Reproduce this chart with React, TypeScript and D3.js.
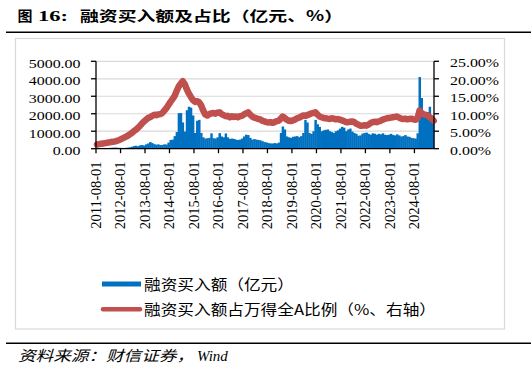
import * as d3 from "d3";

// 融资买入额占万得全A比例（%），月度，2011-08 ~ 2025-05
const ratioPct = [
  1.2, 1.3, 1.4, 1.5, 1.6,
  1.7, 1.8, 1.9, 2.0, 2.1, 2.3, 2.5, 2.8, 3.1, 3.4, 3.7, 4.1,
  4.5, 5.0, 5.4, 5.9, 6.5, 7.2, 7.8, 8.3, 8.8, 9.0, 9.4, 9.7,
  9.6, 9.8, 9.9, 10.2, 10.9, 11.6, 12.5, 13.4, 14.2, 15.1, 16.5, 17.8,
  18.6, 19.3, 18.5, 17.0, 15.8, 14.8, 13.9, 13.4, 13.6, 13.3, 12.4, 11.0,
  9.8, 9.5, 9.9, 10.1, 10.2, 10.0, 10.3, 10.4, 9.9, 9.6, 9.3, 9.4,
  9.0, 9.3, 9.1, 9.2, 9.0, 9.3, 9.4, 9.8, 10.1, 10.4, 9.8, 9.2,
  8.9, 8.7, 8.5, 8.4, 8.0, 7.8, 7.6, 7.5, 7.6, 7.4, 7.6, 7.9,
  8.0, 8.6, 9.2, 8.8, 8.3, 8.0, 7.9, 8.1, 8.3, 8.7, 8.9, 9.2,
  9.5, 9.4, 9.6, 9.8, 10.1, 10.2, 10.4, 9.8, 9.2, 9.0, 8.8, 8.7,
  8.6, 8.5, 8.7, 8.6, 8.4, 8.5, 8.3, 8.1, 7.9, 7.6, 7.6, 7.7,
  7.8, 7.6, 7.2, 6.9, 6.6, 6.6, 6.7, 6.6, 6.9, 7.3, 7.6, 7.7,
  7.6, 7.8, 8.0, 8.3, 8.5, 8.7, 8.8, 8.9, 9.0, 9.1, 9.2, 8.9,
  8.6, 8.5, 8.6, 8.4, 8.5, 8.6, 8.4, 8.3, 8.7, 10.9, 10.2, 9.8,
  9.7, 9.5, 9.0, 8.6, 8.0,
];

// 融资买入额（亿元），月度
const buyAmount = [
  45, 40, 35, 38, 35,
  35, 45, 55, 60, 65, 55, 50, 45, 40, 50, 60, 80,
  110, 150, 170, 140, 190, 210, 180, 250, 300, 380, 320, 260,
  230, 250, 210, 220, 250, 240, 350, 500, 520, 720, 950, 2030,
  2040, 1500, 980, 2200, 2400, 2350, 1900, 900, 1600, 1650, 900, 650,
  580, 600, 620, 880, 600, 580, 650, 890, 700, 650, 870, 650,
  560, 580, 560, 520, 500, 520, 580, 700, 800, 780, 620, 520,
  550, 520, 500, 480, 430, 380, 360, 320, 300, 300, 320, 300,
  350, 900, 1270, 1100, 700, 650, 620, 680, 700, 720, 660, 720,
  900, 1650, 1500, 900, 850, 1000, 1650, 1400, 1250, 1000, 1050, 1080,
  1100, 1000, 950, 900, 1000, 1050, 1150, 1250, 1200, 1000, 1100, 1150,
  980, 900, 850, 740, 760, 860, 900, 920, 850, 800, 880, 860,
  800, 850, 820, 880, 800, 780, 800, 850, 780, 760, 820, 760,
  700, 720, 780, 700, 680, 620, 600, 580, 880, 4100, 2900, 2000,
  1850, 2100, 2400, 1900, 1800,
];

const dateTicks = [
  "2011-08-01", "2012-08-01", "2013-08-01", "2014-08-01", "2015-08-01",
  "2016-08-01", "2017-08-01", "2018-08-01", "2019-08-01", "2020-08-01",
  "2021-08-01", "2022-08-01", "2023-08-01", "2024-08-01",
];
const leftTicks = [0, 1000, 2000, 3000, 4000, 5000];
const rightTicks = [0, 5, 10, 15, 20, 25];

const BLUE = "#0070C0";
const RED = "#C0504D";
const SERIF = "'Liberation Serif', 'Times New Roman', serif";
const CJK = "'Noto Sans CJK SC', sans-serif";

export default function App() {
  const left = 96, right = 434, top = 61.3, bottom = 148.7;
  const parse = d3.timeParse("%Y-%m-%d");
  const months = d3.timeMonth.range(new Date(2011, 7, 1), new Date(2025, 5, 1));
  const x = d3.scaleTime([new Date(2011, 7, 1), new Date(2025, 4, 20)], [left, right]);
  const yL = d3.scaleLinear([0, 5000], [bottom, top]);
  const yR = d3.scaleLinear([0, 25], [bottom, top]);

  const line = d3
    .line<number>()
    .x((d, i) => x(d3.timeDay.offset(months[i], 15)))
    .y((d) => yR(d));

  return (
    <svg width={532} height={375} style={{ position: "absolute", left: 0, top: 0, background: "#fff" }}>
      {/* 标题 */}
      <text x={17.5} y={20.5} fontFamily={CJK} fontWeight="bold" fontSize={14} textLength={15} lengthAdjust="spacingAndGlyphs">图</text>
      <text x={38} y={20.5} fontFamily={SERIF} fontWeight="bold" fontSize={15.5} textLength={30} lengthAdjust="spacingAndGlyphs">16:</text>
      <text x={80} y={20.5} fontFamily={CJK} fontWeight="bold" fontSize={14} textLength={263} lengthAdjust="spacingAndGlyphs">融资买入额及占比（亿元、%）</text>
      <line x1={6} x2={531} y1={32.2} y2={32.2} stroke="#000" strokeWidth={1.4} />

      {/* 图框 */}
      <rect x={15.5} y={38.5} width={489} height={290.5} fill="none" stroke="#D9D9D9" strokeWidth={1.2} />

      {/* 网格线 */}
      {leftTicks.slice(1).map((t) => (
        <line key={t} x1={left} x2={right} y1={yL(t)} y2={yL(t)} stroke="#D9D9D9" strokeWidth={1.2} />
      ))}

      {/* 柱 */}
      <g fill={BLUE}>
        {buyAmount.map((v, i) => {
          const x0 = x(months[i]);
          const x1 = Math.min(x(d3.timeMonth.offset(months[i], 1)), right);
          return <rect key={i} x={x0} y={yL(v)} width={x1 - x0 + 0.4} height={bottom - yL(v)} />;
        })}
      </g>

      {/* 折线 */}
      <path d={line(ratioPct) ?? ""} fill="none" stroke={RED} strokeWidth={6.5} strokeLinejoin="round" strokeLinecap="round" />

      {/* 坐标轴 */}
      <g stroke="#000" strokeWidth={1.3}>
        <line x1={left} x2={left} y1={top} y2={bottom} />
        <line x1={right} x2={right} y1={top} y2={bottom} />
        <line x1={left} x2={right} y1={bottom} y2={bottom} />
        {leftTicks.map((t) => (
          <line key={"l" + t} x1={left - 5} x2={left} y1={yL(t)} y2={yL(t)} />
        ))}
        {rightTicks.map((t) => (
          <line key={"r" + t} x1={right} x2={right + 5} y1={yR(t)} y2={yR(t)} />
        ))}
        {dateTicks.map((t) => (
          <line key={t} x1={x(parse(t)!)} x2={x(parse(t)!)} y1={bottom} y2={bottom + 4.5} />
        ))}
      </g>

      <g fontFamily={SERIF} fontSize={13.5} fill="#000">
        {leftTicks.map((t) => (
          <text key={t} textAnchor="end" transform={`translate(80.5,${yL(t) + 6.5}) scale(1.18,1)`}>
            {t.toFixed(2)}
          </text>
        ))}
        {rightTicks.map((t) => (
          <text key={t} transform={`translate(450,${yR(t) + 6}) scale(1.18,1)`}>
            {t.toFixed(2) + "%"}
          </text>
        ))}
      </g>

      <g fontFamily={SERIF} fontSize={14.5} fill="#000">
        {dateTicks.map((t) => (
          <text key={t} textAnchor="end" dy="0.33em" transform={`translate(${x(parse(t)!)},161.5) rotate(-90)`}>
            {t}
          </text>
        ))}
      </g>

      {/* 图例 */}
      <line x1={102} x2={141} y1={284} y2={284} stroke={BLUE} strokeWidth={5} />
      <text transform="translate(144,289.5) scale(1.15,1)" fontFamily={CJK} fontSize={14.5}>融资买入额（亿元）</text>
      <line x1={103} x2={140} y1={309.3} y2={309.3} stroke={RED} strokeWidth={4.5} strokeLinecap="round" />
      <text transform="translate(144,314.8) scale(1.15,1)" fontFamily={CJK} fontSize={14.5}>融资买入额占万得全A比例（%、右轴）</text>

      {/* 来源 */}
      <line x1={6} x2={531} y1={343.2} y2={343.2} stroke="#000" strokeWidth={1.4} />
      <text x={18} y={361} fontFamily={CJK} fontStyle="italic" fontSize={14.5} textLength={176} lengthAdjust="spacingAndGlyphs">资料来源：财信证券，</text>
      <text x={197} y={361} fontFamily={SERIF} fontStyle="italic" fontSize={15}>Wind</text>
    </svg>
  );
}
